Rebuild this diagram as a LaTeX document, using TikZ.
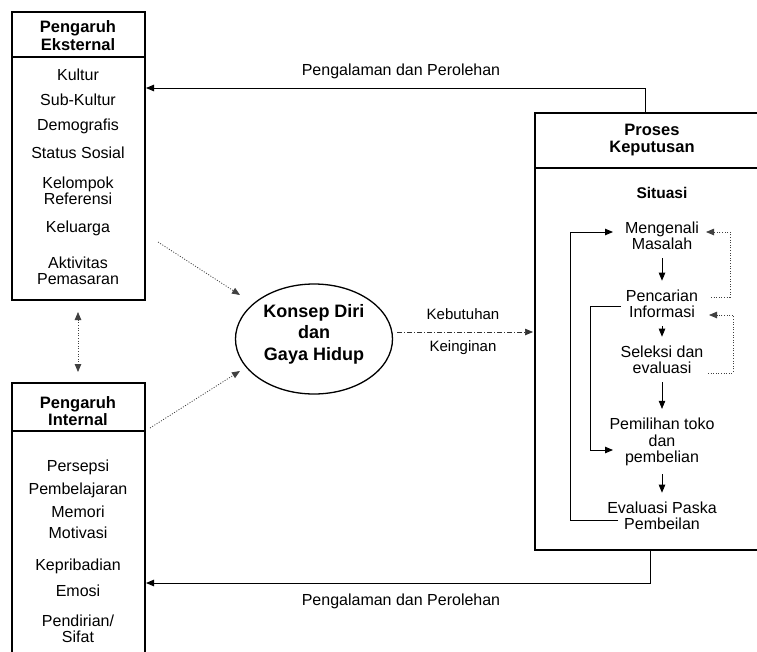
\documentclass[tikz,border=0pt]{standalone}
\usepackage{fontspec}
\setmainfont{Liberation Sans}
\usetikzlibrary{arrows.meta,shapes.geometric}
\begin{document}
\begin{tikzpicture}[x=1pt,y=-1pt,
  boxline/.style={line width=1.3pt},
  itm/.style={font=\fontsize{16}{16.5}\selectfont, align=center, inner sep=0pt},
  ttl/.style={font=\bfseries\fontsize{16.5}{17.5}\selectfont, align=center, inner sep=0pt},
  arr/.style={-{Triangle[length=8pt,width=6.5pt]}, line width=0.8pt},
  dotl/.style={dash pattern=on 1pt off 1.6pt, line width=0.8pt, black!75},
  downarr/.style={arr, line width=0.7pt, shorten <=3pt, shorten >=4pt},
]
\useasboundingbox[fill=white] (0,0) rectangle (757,651);

% ---------- External box ----------
\node[draw, boxline, minimum width=133pt, minimum height=288pt, inner sep=0pt] (ext) at (78.5,156) {};
\draw[boxline] (12,57) -- (145,57);
\node[ttl] (extT) at (78,35.5) {Pengaruh\\Eksternal};
\node[itm] (e1) at (78,75) {Kultur};
\node[itm] (e2) at (78,100) {Sub-Kultur};
\node[itm] (e3) at (78,126) {Demografis};
\node[itm] (e4) at (78,153) {Status Sosial};
\node[itm] (e5) at (78,191) {Kelompok\\Referensi};
\node[itm] (e6) at (78,228) {Keluarga};
\node[itm] (e7) at (78,271) {Aktivitas\\Pemasaran};

% ---------- Internal box ----------
\draw[boxline] (12,660) -- (12,383) -- (145,383) -- (145,660);
\draw[boxline] (12,431) -- (145,431);
\node[ttl] (intT) at (78,411) {Pengaruh\\Internal};
\node[itm] (i1) at (78,467) {Persepsi};
\node[itm] (i2) at (78,490) {Pembelajaran};
\node[itm] (i3) at (78,512) {Memori};
\node[itm] (i4) at (78,533) {Motivasi};
\node[itm] (i5) at (78,566) {Kepribadian};
\node[itm] (i6) at (78,591) {Emosi};
\node[itm] (i7) at (78,629) {Pendirian/\\Sifat};

% double arrow between boxes
\coordinate (extB) at (78,312);
\coordinate (intA) at (78,372);
\draw[dotl, {Triangle[length=8pt,width=6.5pt]}-{Triangle[length=8pt,width=6.5pt]}] (extB) -- (intA);

% ---------- Ellipse ----------
\node[draw, ellipse, line width=1.3pt, minimum width=157pt, minimum height=110pt] (self) at (314,339) {};
\node[font=\bfseries\fontsize{18}{21.5}\selectfont, align=center, inner sep=0pt] (selfT) at (314,334) {Konsep Diri\\dan\\Gaya Hidup};

\coordinate (extOut) at (158,242);
\coordinate (selfIn1) at (240,295);
\draw[dotl, arr] (extOut) -- (selfIn1);
\coordinate (intOut) at (150,428);
\coordinate (selfIn2) at (240,371);
\draw[dotl, arr] (intOut) -- (selfIn2);

% ---------- Needs arrow ----------
\coordinate (selfOut) at (397,332);
\coordinate (prosIn) at (533,332);
\draw[arr, dash pattern=on 5pt off 2pt on 1pt off 2pt, line width=0.7pt, black!80] (selfOut) -- (prosIn);
\node[itm, font=\fontsize{15}{16}\selectfont] (keb) at (463,314) {Kebutuhan};
\node[itm, font=\fontsize{15}{16}\selectfont] (kei) at (463,348) {Keinginan};

% ---------- Proses box ----------
\draw[boxline] (765,113) -- (535,113) -- (535,550) -- (765,550);
\draw[boxline] (535,168) -- (765,168);
\node[ttl] (prosT) at (652,140) {Proses\\Keputusan};
\node[itm, font=\bfseries\fontsize{15.5}{16.5}\selectfont] (sit) at (662,193) {Situasi};
\node[itm, inner ysep=5pt] (m1) at (662,236) {Mengenali\\Masalah};
\node[itm, inner ysep=5pt] (m2) at (662,304) {Pencarian\\Informasi};
\node[itm, inner ysep=5pt] (m3) at (662,360) {Seleksi dan\\evaluasi};
\node[itm, inner ysep=5pt] (m4) at (662,442) {Pemilihan toko\\dan\\pembelian};
\node[itm, inner ysep=5pt] (m5) at (662,516) {Evaluasi Paska\\Pembeilan};

\draw[downarr] (m1) -- (m2);
\draw[downarr] (m2) -- (m3);
\draw[downarr] (m3) -- (m4);
\draw[downarr] (m4) -- (m5);

% solid feedback loops
\coordinate (m5out) at (618,520);
\coordinate (m1in) at (613,232);
\draw[arr, line width=0.9pt] (m5out) -- (570,520) -- (570,232) -- (m1in);
\coordinate (m2out) at (621,306);
\coordinate (m4in) at (613,450);
\draw[arr, line width=0.9pt] (m2out) -- (590,306) -- (590,450) -- (m4in);

% dotted feedback loops
\coordinate (m2r) at (711,297);
\coordinate (m1r) at (706,232);
\draw[dotl, arr] (m2r) -- (730,297) -- (730,232) -- (m1r);
\coordinate (m3r) at (708,373);
\coordinate (m2rin) at (709,315);
\draw[dotl, arr] (m3r) -- (733,373) -- (733,315) -- (m2rin);

% ---------- Experience arrows ----------
\coordinate (pTop) at (645,113);
\coordinate (extR) at (146,88);
\draw[arr, line width=0.9pt] (pTop) |- (extR);
\node[itm] (lab1) at (401,71) {Pengalaman dan Perolehan};

\coordinate (pBot) at (650,550);
\coordinate (intR) at (146,583);
\draw[arr, line width=0.9pt] (pBot) |- (intR);
\node[itm] (lab2) at (401,601) {Pengalaman dan Perolehan};
\end{tikzpicture}
\end{document}
